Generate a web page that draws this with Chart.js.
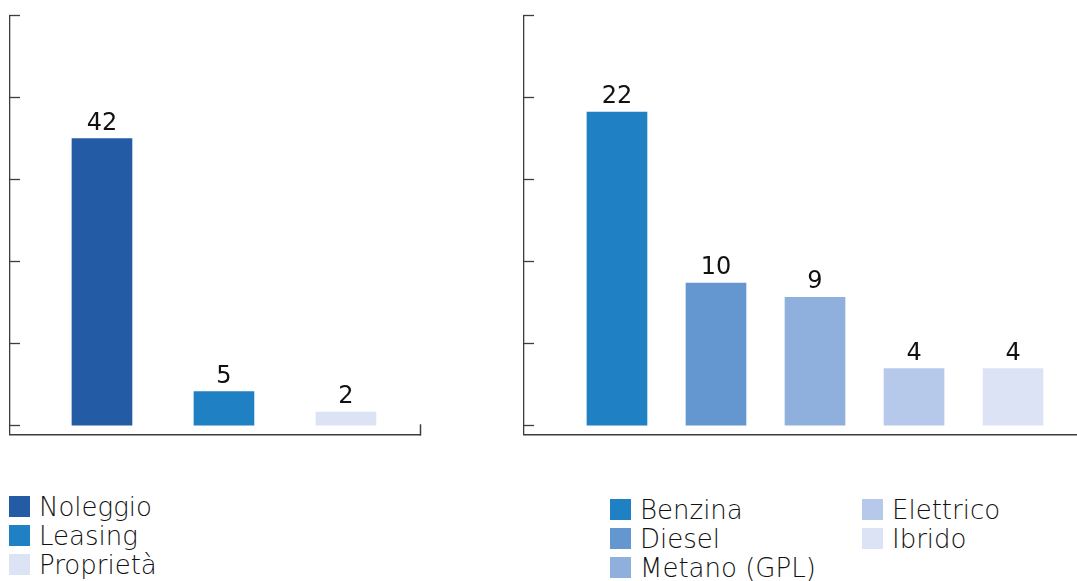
<!DOCTYPE html>
<html lang="it">
<head>
<meta charset="utf-8">
<title>Flotta aziendale</title>
<script src="https://cdn.jsdelivr.net/npm/chart.js@4/dist/chart.umd.min.js"></script>
<style>
  html, body { margin: 0; padding: 0; background: #fff; }
  body { width: 1077px; height: 581px; position: relative; overflow: hidden; font-family: "DejaVu Sans", sans-serif; }
  .panel { position: absolute; top: 0; height: 450px; }
  #fleetPanel { left: 0; width: 430px; }
  #fuelPanel { left: 510px; width: 567px; }
  .legend { position: absolute; left: 0; top: 0; margin: 0; padding: 0; list-style: none; }
  .legend li { position: absolute; height: 21px; line-height: 21px; display: flex; align-items: center; white-space: nowrap;
               font-family: "DejaVu Sans", sans-serif; font-weight: 200; font-size: 26px; color: #111; }
  .legend .sw { width: 21px; height: 21px; margin-right: 9px; flex: none; }
  .legend .txt { position: relative; top: 1px; }
</style>
</head>
<body>
<div class="panel" id="fleetPanel"><canvas id="fleetChart" width="430" height="450"></canvas></div>
<div class="panel" id="fuelPanel"><canvas id="fuelChart" width="567" height="450"></canvas></div>
<ul class="legend" id="fleetLegend"></ul>
<ul class="legend" id="fuelLegend"></ul>

<script>
// Tipologia di possesso dei veicoli
const fleetLabels = ['Noleggio', 'Leasing', 'Proprietà'];
const fleetValues = [42, 5, 2];
const fleetColors = ['#245BA5', '#1F80C3', '#DCE3F5'];
const fleetTicks = [0, 12, 24, 36, 48, 60];

// Alimentazione dei veicoli
const fuelLabels = ['Benzina', 'Diesel', 'Metano (GPL)', 'Elettrico', 'Ibrido'];
const fuelValues = [22, 10, 9, 4, 4];
const fuelColors = ['#1F80C3', '#6497CF', '#8FB0DC', '#B6C9EA', '#DCE3F5'];
const fuelTicks = [0, 5.75, 11.5, 17.25, 23, 28.75];

const AXIS_COLOR = '#3d3d3d';

// Writes each bar's value just above it
const valueLabels = {
  id: 'valueLabels',
  afterDatasetsDraw(chart) {
    const ctx = chart.ctx;
    ctx.save();
    ctx.font = '400 24px "DejaVu Sans", sans-serif';
    ctx.fillStyle = '#111';
    ctx.textAlign = 'center';
    ctx.textBaseline = 'alphabetic';
    chart.data.datasets.forEach((ds, i) => {
      chart.getDatasetMeta(i).data.forEach((bar, j) => {
        ctx.fillText(String(ds.data[j].y), bar.x, bar.y - 9);
      });
    });
    ctx.restore();
  }
};

function makeChart(canvasId, labels, values, colors, ticks, layout) {
  return new Chart(document.getElementById(canvasId), {
    type: 'bar',
    data: {
      datasets: labels.map((label, i) => ({
        label,
        data: [{ x: i, y: values[i] }],
        backgroundColor: colors[i],
        grouped: false,
        barThickness: 60
      }))
    },
    options: {
      responsive: false,
      animation: false,
      layout: { padding: layout.padding },
      plugins: { legend: { display: false }, tooltip: { enabled: false } },
      scales: {
        x: {
          type: 'linear',
          offset: false,
          min: layout.xMin,
          max: layout.xMax,
          afterFit: s => { s.height = 0; },
          afterBuildTicks: s => { s.ticks = layout.endTick ? [{ value: layout.xMax }] : []; },
          ticks: { display: false },
          grid: { offset: false, drawOnChartArea: false, tickLength: -10, tickColor: AXIS_COLOR, tickWidth: 1.5 },
          border: { display: true, color: AXIS_COLOR, width: 1.5 }
        },
        y: {
          min: layout.yMin,
          max: ticks[ticks.length - 1],
          afterFit: s => { s.width = 0; },
          afterBuildTicks: s => { s.ticks = ticks.map(v => ({ value: v })); },
          ticks: { display: false },
          grid: { drawOnChartArea: false, tickLength: -10, tickColor: AXIS_COLOR, tickWidth: 1.3 },
          border: { display: true, color: AXIS_COLOR, width: 1.3 }
        }
      }
    },
    plugins: [valueLabels]
  });
}

// Builds an HTML legend from the chart's datasets, filled column by column
function buildLegend(chart, listId, pos) {
  const list = document.getElementById(listId);
  chart.data.datasets.forEach((ds, i) => {
    const col = Math.floor(i / pos.perColumn);
    const row = i % pos.perColumn;
    const li = document.createElement('li');
    li.style.left = (pos.x + col * pos.colGap) + 'px';
    li.style.top = (pos.y + row * pos.rowGap) + 'px';
    const sw = document.createElement('span');
    sw.className = 'sw';
    sw.style.background = ds.backgroundColor;
    const txt = document.createElement('span');
    txt.className = 'txt';
    txt.textContent = ds.label;
    li.appendChild(sw);
    li.appendChild(txt);
    list.appendChild(li);
  });
}

const fleetChart = makeChart('fleetChart', fleetLabels, fleetValues, fleetColors, fleetTicks, {
  padding: { left: 10, right: 10, top: 15.7, bottom: 15.7 },
  xMin: -0.754, xMax: 2.607, yMin: -1.26, endTick: true
});
const fuelChart = makeChart('fuelChart', fuelLabels, fuelValues, fuelColors, fuelTicks, {
  padding: { left: 14, right: 0, top: 15.7, bottom: 15.7 },
  xMin: -0.939, xMax: 4.646, yMin: -0.6, endTick: false
});

buildLegend(fleetChart, 'fleetLegend', { x: 9, y: 496, rowGap: 29, colGap: 0, perColumn: 3 });
buildLegend(fuelChart, 'fuelLegend', { x: 610, y: 499, rowGap: 29, colGap: 252, perColumn: 3 });
</script>
</body>
</html>
